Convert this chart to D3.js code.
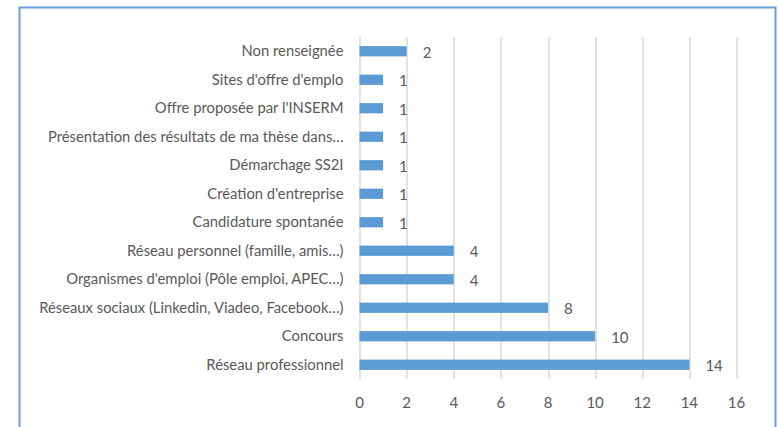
<!DOCTYPE html>
<html>
<head>
<meta charset="utf-8">
<script src="https://cdn.jsdelivr.net/npm/d3@7"></script>
<style>
  body { margin: 0; background: #fff; }
  text { font-family: Lato, "Liberation Sans", sans-serif; fill: #595959; }
</style>
</head>
<body>
<div id="canvas"></div>
<script>
var categories = [
  "Non renseignée",
  "Sites d'offre d'emplo",
  "Offre proposée par l'INSERM",
  "Présentation des résultats de ma thèse dans…",
  "Démarchage SS2I",
  "Création d'entreprise",
  "Candidature spontanée",
  "Réseau personnel (famille, amis…)",
  "Organismes d'emploi (Pôle emploi, APEC…)",
  "Réseaux sociaux (Linkedin, Viadeo, Facebook…)",
  "Concours",
  "Réseau professionnel"
];
var values = [2, 1, 1, 1, 1, 1, 1, 4, 4, 8, 10, 14];
var ticks = [0, 2, 4, 6, 8, 10, 12, 14, 16];

var width = 778, height = 427;
var margin = {top: 37, right: 41.5, bottom: 48, left: 359.5},
    w = width - margin.left - margin.right,
    h = height - margin.top - margin.bottom;

var svg = d3.select("#canvas").append("svg")
    .attr("width", width)
    .attr("height", height);

// chart frame
svg.append("rect")
    .attr("x", 19.5).attr("y", 7.5)
    .attr("width", 756).attr("height", 440)
    .attr("fill", "none")
    .attr("stroke", "#6A9FD6")
    .attr("stroke-width", 2);

var g = svg.append("g")
    .attr("transform", "translate(" + margin.left + "," + margin.top + ")");

var x = d3.scaleLinear().domain([0, 16]).range([0, w]);
var y = d3.scaleBand().domain(categories).range([0, h]).paddingInner(0.64).paddingOuter(0.32);

// gridlines
g.selectAll("line.grid")
    .data(ticks)
  .enter().append("line")
    .attr("class", "grid")
    .attr("x1", function(d) { return Math.round(x(d)) + 0.5; })
    .attr("x2", function(d) { return Math.round(x(d)) + 0.5; })
    .attr("y1", 0).attr("y2", h)
    .attr("stroke", "#D9D9D9")
    .attr("stroke-width", 1.5);

// bars
g.selectAll("rect.bar")
    .data(values)
  .enter().append("rect")
    .attr("class", "bar")
    .attr("x", x(0))
    .attr("y", function(d, i) { return y(categories[i]); })
    .attr("width", function(d) { return x(d) - x(0); })
    .attr("height", y.bandwidth())
    .attr("fill", "#5B9BD5");

// value labels
g.selectAll("text.value")
    .data(values)
  .enter().append("text")
    .attr("class", "value")
    .attr("x", function(d) { return x(d) + 16; })
    .attr("y", function(d, i) { return y(categories[i]) + y.bandwidth() / 2 + 1; })
    .attr("dy", "0.35em")
    .style("font-size", "15px")
    .text(function(d) { return d; });

// category labels
g.selectAll("text.cat")
    .data(categories)
  .enter().append("text")
    .attr("class", "cat")
    .attr("x", -16)
    .attr("y", function(d) { return y(d) + y.bandwidth() / 2; })
    .attr("dy", "0.35em")
    .style("text-anchor", "end")
    .style("font-size", "14.8px")
    .text(function(d) { return d; });

// x tick labels
g.selectAll("text.tick")
    .data(ticks)
  .enter().append("text")
    .attr("class", "tick")
    .attr("x", function(d) { return x(d); })
    .attr("y", h + 24)
    .attr("dy", "0.35em")
    .style("text-anchor", "middle")
    .style("font-size", "15px")
    .text(function(d) { return d; });
</script>
</body>
</html>
